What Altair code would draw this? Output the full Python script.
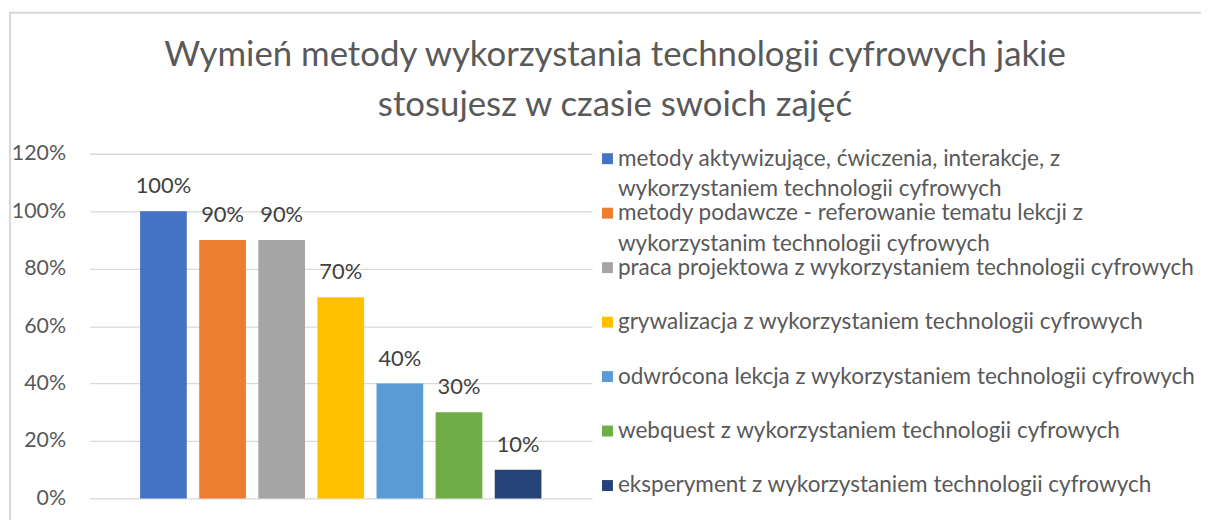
import altair as alt
import pandas as pd

categories = [
    "metody aktywizujące, ćwiczenia, interakcje, z wykorzystaniem technologii cyfrowych",
    "metody podawcze - referowanie tematu lekcji z wykorzystanim technologii cyfrowych",
    "praca projektowa z wykorzystaniem technologii cyfrowych",
    "grywalizacja z wykorzystaniem technologii cyfrowych",
    "odwrócona lekcja z wykorzystaniem technologii cyfrowych",
    "webquest z wykorzystaniem technologii cyfrowych",
    "eksperyment z wykorzystaniem technologii cyfrowych",
]
values = [1.0, 0.9, 0.9, 0.7, 0.4, 0.3, 0.1]
colors = ["#4472C4", "#ED7D31", "#A5A5A5", "#FFC000", "#5B9BD5", "#70AD47", "#264478"]
y_ticks = [0, 0.2, 0.4, 0.6, 0.8, 1.0, 1.2]
title_lines = [
    "Wymień metody wykorzystania technologii cyfrowych jakie",
    "stosujesz w czasie swoich zajęć",
]

FONT = "Lato"
TXT = "#595959"

df = pd.DataFrame({"cat": categories, "value": values})
color_scale = alt.Scale(domain=categories, range=colors)
base = alt.Chart(df)

x_enc = alt.X("cat:N", sort=categories, axis=None,
              scale=alt.Scale(paddingInner=0.21, paddingOuter=0.857))
y_enc = alt.Y("value:Q", scale=alt.Scale(domain=[0, 1.2]),
              axis=alt.Axis(values=y_ticks, format=".0%", domain=False, ticks=False,
                            labelPadding=24, labelFontSize=21.5, labelFont=FONT,
                            labelColor=TXT, gridColor="#d9d9d9", gridWidth=1.3,
                            title=None))

bars = base.mark_bar().encode(
    x=x_enc, y=y_enc,
    color=alt.Color("cat:N", scale=color_scale, legend=None),
)

labels = base.mark_text(baseline="alphabetic", dy=-18, fontSize=22, font=FONT,
                        color="#404040").encode(
    x=x_enc, y=y_enc,
    text=alt.Text("value:Q", format=".0%"),
)

leg_y = alt.Y("cat:N", sort=categories, axis=None,
              scale=alt.Scale(type="point", range=[5, 334], padding=0))

leg_sym = base.mark_square(size=121, opacity=1).encode(
    x=alt.value(521.5), y=leg_y,
    color=alt.Color("cat:N", scale=color_scale, legend=None),
)

leg_txt = base.transform_calculate(
    lbl="length(datum.cat) > 60 ? replace(datum.cat, ' wykorzysta', '|wykorzysta') : datum.cat"
).mark_text(align="left", baseline="top", dy=-11, lineBreak="|", lineHeight=31,
            fontSize=22.7, font=FONT, color=TXT).encode(
    x=alt.value(532), y=leg_y, text="lbl:N",
)

border = alt.Chart(pd.DataFrame({"d": [0]})).mark_rect(
    filled=False, stroke="#d9d9d9", strokeWidth=2
).encode(x=alt.value(-80), x2=alt.value(1150), y=alt.value(-142), y2=alt.value(420))

chart = alt.layer(
    border, alt.layer(bars, labels), alt.layer(leg_sym, leg_txt)
).resolve_scale(
    y="independent"
).properties(
    width=506, height=347,
    padding={"left": 82, "top": 145, "right": 613, "bottom": 20},
    autosize=alt.AutoSizeParams(type="none"),
    title=alt.Title(title_lines, fontSize=35, font=FONT, color=TXT, fontWeight="normal",
                    anchor="middle", frame="group", dx=276, lineHeight=50, offset=-112),
).configure_view(stroke=None)

chart.save("out.html", embed_options={"renderer": "svg", "actions": False})
